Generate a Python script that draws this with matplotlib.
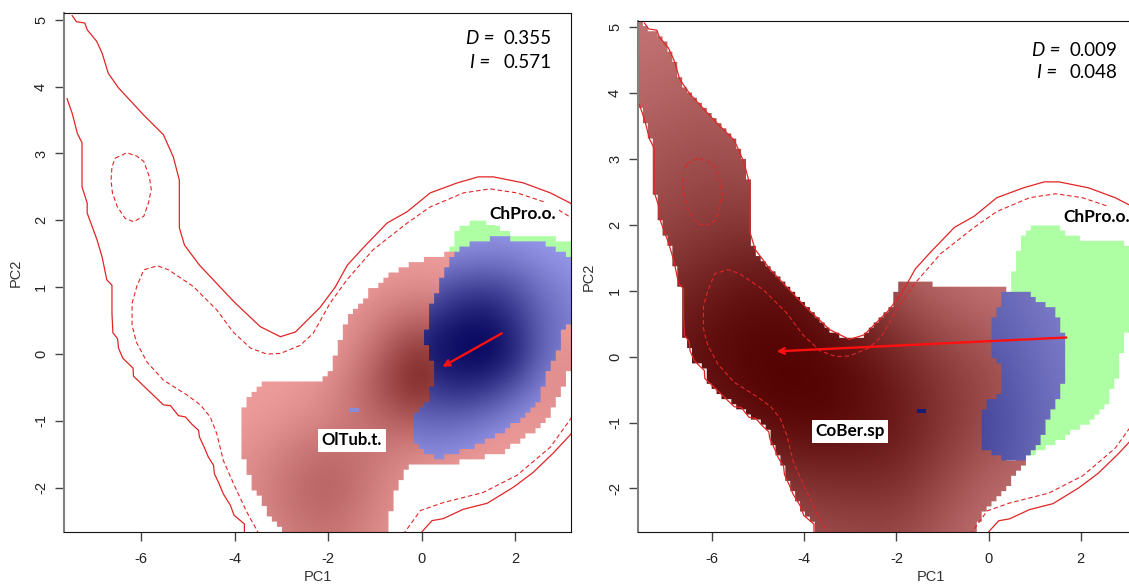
import numpy as np
import matplotlib
matplotlib.use("Agg")
import matplotlib.pyplot as plt
from matplotlib.colors import LinearSegmentedColormap
from matplotlib.path import Path
from matplotlib.patches import PathPatch

plt.rcParams['font.family'] = ['Liberation Sans', 'DejaVu Sans']
plt.rcParams['axes.unicode_minus'] = False

W, H = 1129, 585

# contours of the environment, same in both panels (PC1, PC2)
solid_top = [(-7.47, 5.06), (-7.38, 4.97), (-7.2, 4.95), (-7.15, 4.85), (-6.95, 4.68), (-6.83, 4.5), (-6.70, 4.2),
             (-6.48, 3.98), (-5.95, 3.58), (-5.52, 3.28), (-5.31, 2.95), (-5.18, 2.6), (-5.18, 1.89), (-5.07, 1.63),
             (-4.75, 1.33), (-4.05, 0.81), (-3.98, 0.76), (-3.45, 0.41), (-3.02, 0.26), (-2.7, 0.33), (-2.17, 0.7),
             (-1.85, 1.0), (-1.59, 1.33), (-1.25, 1.59), (-0.74, 1.96), (-0.31, 2.13), (0.18, 2.41), (0.76, 2.56),
             (1.21, 2.65), (1.53, 2.65), (2.17, 2.56), (2.75, 2.41), (3.17, 2.26), (3.4, 2.12)]
solid_left = [(-7.58, 3.82), (-7.47, 3.6), (-7.36, 3.3), (-7.26, 3.16), (-7.26, 2.5), (-7.15, 2.26), (-7.15, 2.11),
              (-7.04, 1.9), (-6.94, 1.71), (-6.83, 1.45), (-6.73, 1.11), (-6.62, 1.03), (-6.62, 0.61), (-6.6, 0.32),
              (-6.5, 0.23), (-6.48, 0.09), (-6.39, -0.06), (-6.17, -0.21), (-6.16, -0.33), (-5.52, -0.76),
              (-5.37, -0.77), (-5.2, -0.92), (-5.05, -0.94), (-4.91, -1.05), (-4.77, -1.14), (-4.75, -1.24),
              (-4.65, -1.39), (-4.56, -1.54), (-4.45, -1.66), (-4.43, -1.79), (-4.33, -1.94), (-4.24, -2.09),
              (-4.09, -2.26), (-4.01, -2.41), (-3.79, -2.54), (-3.79, -2.7)]
solid_bottom = [(0.0, -2.66), (0.22, -2.49), (0.46, -2.46), (0.89, -2.32), (1.4, -2.23), (1.96, -1.99), (2.38, -1.77),
                (2.81, -1.48), (3.17, -1.21), (3.4, -1.0)]
dash_ring = [(-6.55, 2.93), (-6.3, 3.01), (-6.09, 2.96), (-5.94, 2.88), (-5.82, 2.65), (-5.78, 2.46), (-5.84, 2.26),
             (-5.94, 2.06), (-6.16, 1.98), (-6.34, 2.03), (-6.51, 2.21), (-6.61, 2.41), (-6.64, 2.6), (-6.62, 2.8),
             (-6.55, 2.93)]
dash_main = [(-3.47, -2.7), (-3.74, -2.36), (-4.02, -1.94), (-4.24, -1.59), (-4.38, -1.19), (-4.52, -0.94),
             (-4.73, -0.76), (-5.02, -0.61), (-5.52, -0.39), (-5.87, -0.12), (-6.1, 0.18), (-6.19, 0.43), (-6.19, 0.76),
             (-6.09, 1.01), (-5.94, 1.26), (-5.65, 1.32), (-5.41, 1.26), (-4.88, 1.01), (-4.38, 0.66), (-4.03, 0.33),
             (-3.66, 0.09), (-3.31, 0.0), (-3.02, 0.01), (-2.6, 0.13), (-2.32, 0.31), (-1.96, 0.76), (-1.6, 1.11),
             (-1.04, 1.56), (-0.31, 1.96), (0.18, 2.2), (0.89, 2.41), (1.46, 2.47), (2.04, 2.41), (2.68, 2.26),
             (3.17, 2.05), (3.4, 1.93)]
dash_bottom = [(-0.4, -2.7), (-0.03, -2.34), (0.46, -2.22), (1.31, -2.07), (2.04, -1.81), (2.75, -1.39), (3.13, -1.02),
               (3.4, -0.75)]

# niches
green_area = [(0.48, 1.05), (0.48, 1.2), (0.6, 1.43), (0.69, 1.76), (0.89, 1.91), (1.04, 1.99), (1.55, 1.99),
              (1.78, 1.83), (2.11, 1.76), (2.75, 1.76), (3.1, 1.67), (3.4, 1.67), (3.4, 0.47), (3.07, 0.47), (2.92, 0.2),
              (2.78, -0.31), (2.56, -0.71), (2.31, -0.94), (1.69, -1.2), (1.0, -1.47), (0.8, -1.47), (0.5, -1.0),
              (0.4, 0.5)]
pink_area = [(-2.87, -2.75), (-3.31, -2.34), (-3.63, -1.96), (-3.84, -1.49), (-3.84, -0.81), (-3.63, -0.57),
             (-3.31, -0.42), (-2.10, -0.41), (-1.88, -0.12), (-1.67, 0.36), (-1.46, 0.66), (-1.03, 1.0), (-0.46, 1.28),
             (0.18, 1.45), (0.75, 1.53), (3.4, 0.52), (3.4, -0.24), (3.17, -0.24), (3.0, -0.49), (2.77, -0.86),
             (2.43, -1.14), (1.68, -1.49), (1.04, -1.57), (0.69, -1.63), (-0.28, -1.63), (-0.52, -1.96), (-0.6, -2.26),
             (-0.82, -2.75)]
blue_area_l = [(0.82, 1.58), (1.14, 1.68), (1.68, 1.77), (2.04, 1.70), (2.64, 1.68), (2.89, 1.53), (3.4, 1.45),
               (3.4, 0.52), (3.0, 0.36), (2.89, -0.01), (2.67, -0.34), (2.46, -0.74), (2.0, -1.04), (1.25, -1.36),
               (0.68, -1.49), (0.4, -1.57), (0.07, -1.49), (-0.16, -1.33), (-0.16, -0.89), (0.18, -0.64), (0.27, -0.19),
               (0.07, 0.21), (0.18, 0.69), (0.4, 1.06), (0.61, 1.46)]
dark_right = [(-1.9, 1.13), (-1.26, 1.13), (-1.26, 1.05), (0.39, 1.05), (0.39, -1.58), (0.81, -1.5), (0.81, -1.62),
              (0.6, -1.73), (0.46, -1.9), (0.28, -2.11), (-0.05, -2.33), (-0.38, -2.75), (-3.65, -2.75)]
blue_area_r = [(0.39, 1.05), (0.48, 0.97), (0.89, 0.96), (1.15, 0.82), (1.44, 0.74), (1.58, 0.44), (1.67, 0.3),
               (1.67, -0.32), (1.55, -0.56), (1.44, -0.79), (1.26, -0.97), (1.15, -1.25), (0.89, -1.5), (0.68, -1.58),
               (0.39, -1.58), (0.06, -1.47), (-0.16, -1.35), (-0.16, -0.89), (-0.05, -0.71), (0.28, -0.56), (0.28, -0.18),
               (0.06, 0.07), (0.06, 0.44), (0.17, 0.67), (0.28, 0.9)]
stray_x = [-1.56, -1.35]
stray_y = [-0.86, -0.80]

# shade: 0 = palest, 1 = darkest
pink_x = [-4, -3, -2, -1, 0, 1, 2, 3]
pink_y = [-3, -2.5, -2, -1.5, -1, -0.5, 0, 0.5, 1, 1.5]
pink_val = [[.05, .15, .30, .10, .00, 0, 0, 0],
            [.05, .25, .40, .15, .02, 0, 0, 0],
            [.08, .28, .50, .22, .05, 0, 0, 0],
            [.05, .22, .40, .28, .10, .05, 0, .1],
            [.00, .08, .20, .35, .55, .20, 0, .1],
            [.00, .00, .10, .50, 1.0, .50, .1, .1],
            [.00, .00, .00, .35, .95, .40, .1, .1],
            [.00, .00, .00, .20, .50, .20, 0, 0],
            [.00, .00, .00, .05, .15, .05, 0, 0],
            [.00, .00, .00, .00, .00, .00, 0, 0]]
blue_l_x = [-0.5, 0, 0.5, 1, 1.5, 2, 2.5, 3, 3.5]
blue_l_y = [-2, -1.5, -1, -0.5, 0, 0.5, 1, 1.5, 2]
blue_l_val = [[0, 0, 0, 0, 0, 0, 0, 0, 0],
              [.05, .10, .10, .05, 0, 0, 0, 0, 0],
              [.30, .35, .35, .30, .20, .08, 0, 0, 0],
              [.50, .60, .72, .75, .65, .45, .22, .08, 0],
              [.70, .85, .95, 1, 1, .80, .42, .22, .15],
              [.50, .68, .82, .92, .90, .70, .42, .25, .15],
              [.15, .35, .50, .60, .60, .50, .30, .18, .08],
              [0, .08, .12, .15, .18, .15, .08, .03, 0],
              [0, 0, 0, 0, 0, 0, 0, 0, 0]]
dark_x = [-8, -7, -6, -5, -4, -3, -2, -1, 0, 1]
dark_y = [-3, -2, -1, 0, 1, 2, 3, 4, 5, 6]
dark_val = [[.10, .10, .10, .15, .25, .30, .32, .15, .02, 0],
            [.30, .35, .40, .45, .55, .58, .60, .38, .12, .05],
            [.55, .65, .75, .92, 1, .95, .85, .58, .40, .20],
            [.70, .82, .95, 1, 1, .92, .72, .50, .35, .15],
            [.50, .65, .78, .90, .85, .60, .30, .12, .03, 0],
            [.35, .42, .50, .55, .50, .30, .08, 0, 0, 0],
            [.22, .30, .36, .30, .20, .08, 0, 0, 0, 0],
            [.10, .16, .20, .15, .08, 0, 0, 0, 0, 0],
            [.02, .04, .05, .04, 0, 0, 0, 0, 0, 0],
            [0, 0, 0, 0, 0, 0, 0, 0, 0, 0]]
blue_r_x = [-0.5, 0, 0.5, 1, 1.5, 2]
blue_r_y = [-2, -1, 0, 1, 2]
blue_r_val = [[.70, .60, .45, .30, .15, .10],
              [.90, .80, .60, .40, .25, .15],
              [.60, .55, .45, .30, .15, .10],
              [.40, .35, .25, .15, .05, 0],
              [.30, .25, .15, .05, 0, 0]]

xticks = [-6, -4, -2, 0, 2]
yticks = [-2, -1, 0, 1, 2, 3, 4, 5]

pink_map = LinearSegmentedColormap.from_list("pink_map", ["#EE9C9C", "#701818"])
blue_l_map = LinearSegmentedColormap.from_list("blue_l_map", ["#9C9CEE", "#04045C"])
dark_map = LinearSegmentedColormap.from_list("dark_map", ["#C67676", "#520000"])
blue_r_map = LinearSegmentedColormap.from_list("blue_r_map", ["#8080CC", "#36368F"])


def cells(area, xlim, ylim):
    # the original is a 100 x 100 raster, so its edges are stepped
    xs = np.linspace(xlim[0], xlim[1], 101)
    ys = np.linspace(ylim[0], ylim[1], 101)
    shape = Path(area + [area[0]])
    verts, codes = [], []
    for j in range(100):
        row = np.column_stack([(xs[:-1] + xs[1:]) / 2, np.full(100, (ys[j] + ys[j + 1]) / 2)])
        inside = shape.contains_points(row)
        for i in np.where(inside)[0]:
            verts += [(xs[i], ys[j]), (xs[i + 1], ys[j]), (xs[i + 1], ys[j + 1]), (xs[i], ys[j + 1]), (xs[i], ys[j])]
            codes += [Path.MOVETO, Path.LINETO, Path.LINETO, Path.LINETO, Path.CLOSEPOLY]
    return Path(verts, codes)


def shade(ax, area, gx, gy, val, cmap):
    dx = (gx[1] - gx[0]) / 2
    dy = (gy[1] - gy[0]) / 2
    im = ax.imshow(val, origin='lower', extent=(gx[0] - dx, gx[-1] + dx, gy[0] - dy, gy[-1] + dy), cmap=cmap,
                   vmin=0, vmax=1, interpolation='bicubic', aspect='auto', zorder=2)
    im.set_clip_path(cells(area, ax.get_xlim(), ax.get_ylim()), transform=ax.transData)


def panel(left, right, top, bottom, xlim, ylim):
    ax = fig.add_axes([left / W, 1 - bottom / H, (right - left) / W, (bottom - top) / H])
    ax.set_xlim(xlim)
    ax.set_ylim(ylim)
    ax.set_xticks(xticks)
    ax.set_yticks(yticks)
    ax.tick_params(axis='both', length=6.5, width=1, color='#444444', labelsize=10.5, labelcolor='#222222')
    ax.tick_params(axis='x', pad=8)
    ax.tick_params(axis='y', pad=5)
    plt.setp(ax.get_yticklabels(), rotation=90, va='center')
    ax.spines['left'].set_color('#808080')
    ax.spines['left'].set_linewidth(1.5)
    for side in ['top', 'bottom', 'right']:
        ax.spines[side].set_color('#111111')
    ax.set_xlabel('PC1', fontsize=10.5, color='#333333')
    ax.set_ylabel('PC2', fontsize=10.5, color='#333333')
    return ax


def contours(ax):
    for line in [solid_top, solid_left, solid_bottom]:
        ax.plot(*zip(*line), color='#E02525', lw=0.9, zorder=4)
    for line in [dash_ring, dash_main, dash_bottom]:
        ax.plot(*zip(*line), color='#E02525', lw=0.8, ls=(0, (4, 2.5)), zorder=4)


def tag(ax, x, y, s, size):
    ax.text(x, y, s, family=['Lato', 'DejaVu Sans'], fontweight='bold', fontsize=size, color='black', ha='center', va='center',
            zorder=6, clip_on=False, bbox=dict(facecolor='white', edgecolor='none', pad=2.5))


def stats(x_sym, x_num, y, sym, num):
    fig.text(x_sym / W, 1 - y / H, sym, family=['Lato', 'DejaVu Sans'], fontstyle='italic', fontsize=13.5, ha='right', va='center')
    fig.text(x_num / W, 1 - y / H, num, family=['Lato', 'DejaVu Sans'], fontsize=13.5, ha='left', va='center')


fig = plt.figure(figsize=(W / 100, H / 100), dpi=100)

# left panel
ax1 = panel(64, 571, 13, 532, (-7.645, 3.19), (-2.66, 5.1))
ax1.add_patch(PathPatch(cells(green_area, ax1.get_xlim(), ax1.get_ylim()), fc='#AEFFA4', lw=0, zorder=1))
shade(ax1, pink_area, pink_x, pink_y, pink_val, pink_map)
shade(ax1, blue_area_l, blue_l_x, blue_l_y, blue_l_val, blue_l_map)
ax1.fill_between(stray_x, stray_y[0], stray_y[1], color='#8A8ADD', lw=0, zorder=3)
contours(ax1)
ax1.annotate('', xy=(0.44, -0.19), xytext=(1.71, 0.31),
             arrowprops=dict(arrowstyle='->', color='#FF1010', lw=1.7, shrinkA=0, shrinkB=0), zorder=5)
tag(ax1, -1.49, -1.29, 'OlTub.t.', 12)
tag(ax1, 2.15, 2.1, 'ChPro.o.', 12.5)
ax1.xaxis.set_label_coords(0.5, -0.073)
ax1.yaxis.set_label_coords(-0.081, 0.5)
stats(494, 503, 38, 'D =', '0.355')
stats(490, 503, 62, 'I =', '0.571')

# right panel
ax2 = panel(638, 1129, 21, 532, (-7.61, 3.05), (-2.66, 5.09))
ax2.spines['right'].set_visible(False)
ax2.add_patch(PathPatch(cells(green_area, ax2.get_xlim(), ax2.get_ylim()), fc='#AEFFA4', lw=0, zorder=1))
dark_area = [(-7.7, 5.2)] + solid_top[:21] + dark_right + solid_left[::-1] + [(-7.7, 3.82)]
shade(ax2, dark_area, dark_x, dark_y, dark_val, dark_map)
shade(ax2, blue_area_r, blue_r_x, blue_r_y, blue_r_val, blue_r_map)
ax2.fill_between(stray_x, stray_y[0], stray_y[1], color='#1A1A70', lw=0, zorder=3)
contours(ax2)
ax2.annotate('', xy=(-4.6, 0.08), xytext=(1.69, 0.29),
             arrowprops=dict(arrowstyle='->', color='#FF1010', lw=1.7, shrinkA=0, shrinkB=0), zorder=5)
tag(ax2, -3.01, -1.13, 'CoBer.sp', 12.3)
tag(ax2, 2.34, 2.11, 'ChPro.o.', 12.5)
ax2.xaxis.set_label_coords(0.597, -0.075)
ax2.yaxis.set_label_coords(-0.0855, 0.5)
stats(1060, 1069, 50, 'D =', '0.009')
stats(1057, 1069, 72, 'I =', '0.048')

fig.savefig("out.png", dpi=100)
